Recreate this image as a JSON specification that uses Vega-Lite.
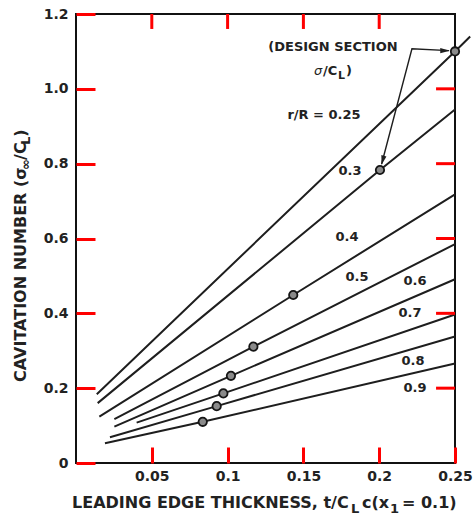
{
  "$schema": "https://vega.github.io/schema/vega-lite/v6.json",
  "width": 379,
  "height": 449,
  "autosize": {"type": "none"},
  "padding": {"left": 76, "top": 14, "right": 20, "bottom": 60},
  "background": "white",
  "config": {
    "view": {"stroke": "#111", "strokeWidth": 2},
    "font": "DejaVu Sans",
    "axis": {
      "domain": false,
      "grid": false,
      "title": null,
      "labelFont": "DejaVu Sans",
      "labelFontWeight": "bold",
      "labelFontSize": 14,
      "labelColor": "#222",
      "labelFlush": false,
      "labelOverlap": false
    }
  },
  "datasets": {
    "lines": [
      {"r": "0.25", "x": 0.0137, "y": 0.184, "ord": 1},
      {"r": "0.25", "x": 0.25, "y": 1.10, "ord": 2},
      {"r": "0.25", "x": 0.26, "y": 1.14, "ord": 3},
      {"r": "0.3", "x": 0.0143, "y": 0.160, "ord": 1},
      {"r": "0.3", "x": 0.2005, "y": 0.783, "ord": 2},
      {"r": "0.3", "x": 0.25, "y": 0.945, "ord": 3},
      {"r": "0.4", "x": 0.0154, "y": 0.124, "ord": 1},
      {"r": "0.4", "x": 0.1433, "y": 0.449, "ord": 2},
      {"r": "0.4", "x": 0.25, "y": 0.718, "ord": 3},
      {"r": "0.5", "x": 0.0253, "y": 0.117, "ord": 1},
      {"r": "0.5", "x": 0.117, "y": 0.311, "ord": 2},
      {"r": "0.5", "x": 0.25, "y": 0.585, "ord": 3},
      {"r": "0.6", "x": 0.0253, "y": 0.097, "ord": 1},
      {"r": "0.6", "x": 0.1022, "y": 0.233, "ord": 2},
      {"r": "0.6", "x": 0.25, "y": 0.491, "ord": 3},
      {"r": "0.7", "x": 0.040, "y": 0.108, "ord": 1},
      {"r": "0.7", "x": 0.0972, "y": 0.186, "ord": 2},
      {"r": "0.7", "x": 0.25, "y": 0.397, "ord": 3},
      {"r": "0.8", "x": 0.0224, "y": 0.069, "ord": 1},
      {"r": "0.8", "x": 0.0928, "y": 0.152, "ord": 2},
      {"r": "0.8", "x": 0.25, "y": 0.338, "ord": 3},
      {"r": "0.9", "x": 0.0191, "y": 0.053, "ord": 1},
      {"r": "0.9", "x": 0.0836, "y": 0.110, "ord": 2},
      {"r": "0.9", "x": 0.25, "y": 0.266, "ord": 3}
    ],
    "design": [
      {"r": "0.25", "x": 0.25, "y": 1.10},
      {"r": "0.3", "x": 0.2005, "y": 0.783},
      {"r": "0.4", "x": 0.1433, "y": 0.449},
      {"r": "0.5", "x": 0.117, "y": 0.311},
      {"r": "0.6", "x": 0.1022, "y": 0.233},
      {"r": "0.7", "x": 0.0972, "y": 0.186},
      {"r": "0.8", "x": 0.0928, "y": 0.152},
      {"r": "0.9", "x": 0.0836, "y": 0.110}
    ],
    "arrow": [
      {"x": 0.2016, "y": 0.799, "ord": 1},
      {"x": 0.2216, "y": 1.107, "ord": 2},
      {"x": 0.2460, "y": 1.102, "ord": 3}
    ],
    "labels": [
      {"text": "0.3", "x": 0.1807, "y": 0.781},
      {"text": "0.4", "x": 0.1788, "y": 0.604},
      {"text": "0.5", "x": 0.1854, "y": 0.497},
      {"text": "0.6", "x": 0.2236, "y": 0.487},
      {"text": "0.7", "x": 0.2203, "y": 0.401},
      {"text": "0.8", "x": 0.2223, "y": 0.273},
      {"text": "0.9", "x": 0.2236, "y": 0.2005},
      {"text": "r/R = 0.25", "x": 0.1636, "y": 0.930},
      {"text": "(DESIGN SECTION", "x": 0.1695, "y": 1.112}
    ],
    "annot": [
      {"text": "/C", "x": 0.1629, "y": 1.047},
      {"text": ")", "x": 0.1781, "y": 1.047}
    ],
    "annotSigma": [
      {"text": "σ", "x": 0.1570, "y": 1.047}
    ],
    "annotSub": [
      {"text": "L", "x": 0.1728, "y": 1.047}
    ],
    "xtitle": [
      {"text": "LEADING EDGE THICKNESS,  t/C", "x": -0.0026, "y": -0.107},
      {"text": "c(x", "x": 0.1887, "y": -0.107},
      {"text": "= 0.1)", "x": 0.2150, "y": -0.107}
    ],
    "xtitleSub": [
      {"text": "L", "x": 0.1814, "y": -0.107},
      {"text": "1", "x": 0.2071, "y": -0.107}
    ],
    "ytitle": [
      {"text": "CAVITATION NUMBER  (σ", "x": -0.0363, "y": 0.2166},
      {"text": "/C", "x": -0.0363, "y": 0.810},
      {"text": " )", "x": -0.0363, "y": 0.8717}
    ],
    "ytitleSub": [
      {"text": "∞", "x": -0.0363, "y": 0.7834},
      {"text": "L", "x": -0.0363, "y": 0.850}
    ]
  },
  "layer": [
    {
      "data": {"name": "lines"},
      "mark": {"type": "line", "color": "#1e1e1e", "strokeWidth": 2, "clip": false},
      "encoding": {
        "x": {"field": "x", "type": "quantitative",
              "scale": {"domain": [0, 0.25], "nice": false, "zero": false},
              "axis": {"orient": "bottom", "values": [0.05, 0.1, 0.15, 0.2, 0.25], "tickSize": -16, "tickColor": "red", "tickWidth": 3, "labelPadding": 22,
                       "labelExpr": "format(datum.value, '.2~f')"}},
        "y": {"field": "y", "type": "quantitative",
              "scale": {"domain": [0, 1.2], "nice": false, "zero": false},
              "axis": {"orient": "left", "values": [0, 0.2, 0.4, 0.6, 0.8, 1.0, 1.2], "tickSize": -19, "tickColor": "red", "tickWidth": 3, "labelPadding": 27,
                       "labelExpr": "datum.value == 0 ? '0' : format(datum.value, '.1f')"}},
        "detail": {"field": "r"},
        "order": {"field": "ord"}
      }
    },
    {
      "data": {"name": "arrow"},
      "mark": {"type": "line", "color": "#1e1e1e", "strokeWidth": 1.4, "clip": false},
      "encoding": {
        "x": {"field": "x", "type": "quantitative"},
        "y": {"field": "y", "type": "quantitative"},
        "order": {"field": "ord"}
      }
    },
    {
      "data": {"values": [{"x": 0.2434, "y": 1.102}]},
      "mark": {"type": "point", "shape": "M0,-1L0.55,1L-0.55,1Z", "filled": true, "color": "#1e1e1e", "size": 90, "angle": 90, "opacity": 1, "clip": false},
      "encoding": {
        "x": {"field": "x", "type": "quantitative"},
        "y": {"field": "y", "type": "quantitative"}
      }
    },
    {
      "data": {"values": [{"x": 0.2023, "y": 0.809}]},
      "mark": {"type": "point", "shape": "M0,-1L0.55,1L-0.55,1Z", "filled": true, "color": "#1e1e1e", "size": 90, "angle": 195, "opacity": 1, "clip": false},
      "encoding": {
        "x": {"field": "x", "type": "quantitative"},
        "y": {"field": "y", "type": "quantitative"}
      }
    },
    {
      "data": {"name": "design"},
      "mark": {"type": "point", "filled": true, "fill": "#8a8a8a", "stroke": "#151515", "strokeWidth": 1.8, "size": 70, "opacity": 1, "clip": false},
      "encoding": {
        "x": {"field": "x", "type": "quantitative"},
        "y": {"field": "y", "type": "quantitative"}
      }
    },
    {
      "data": {"name": "labels"},
      "mark": {"type": "text", "font": "DejaVu Sans", "fontWeight": "bold", "fontSize": 13, "color": "#222", "align": "center", "baseline": "middle", "clip": false},
      "encoding": {
        "x": {"field": "x", "type": "quantitative"},
        "y": {"field": "y", "type": "quantitative"},
        "text": {"field": "text"}
      }
    },
    {
      "data": {"name": "annot"},
      "mark": {"type": "text", "font": "DejaVu Sans", "fontWeight": "bold", "fontSize": 13, "color": "#222", "align": "left", "baseline": "middle", "clip": false},
      "encoding": {
        "x": {"field": "x", "type": "quantitative"},
        "y": {"field": "y", "type": "quantitative"},
        "text": {"field": "text"}
      }
    },
    {
      "data": {"name": "annotSigma"},
      "mark": {"type": "text", "font": "DejaVu Sans", "fontStyle": "italic", "fontSize": 13, "color": "#222", "align": "left", "baseline": "middle", "clip": false},
      "encoding": {
        "x": {"field": "x", "type": "quantitative"},
        "y": {"field": "y", "type": "quantitative"},
        "text": {"field": "text"}
      }
    },
    {
      "data": {"name": "annotSub"},
      "mark": {"type": "text", "font": "DejaVu Sans", "fontWeight": "bold", "fontSize": 11, "color": "#222", "align": "left", "baseline": "middle", "dy": 5, "clip": false},
      "encoding": {
        "x": {"field": "x", "type": "quantitative"},
        "y": {"field": "y", "type": "quantitative"},
        "text": {"field": "text"}
      }
    },
    {
      "data": {"name": "xtitle"},
      "mark": {"type": "text", "font": "DejaVu Sans", "fontWeight": "bold", "fontSize": 16, "color": "#222", "align": "left", "baseline": "middle", "clip": false},
      "encoding": {
        "x": {"field": "x", "type": "quantitative"},
        "y": {"field": "y", "type": "quantitative"},
        "text": {"field": "text"}
      }
    },
    {
      "data": {"name": "xtitleSub"},
      "mark": {"type": "text", "font": "DejaVu Sans", "fontWeight": "bold", "fontSize": 13, "color": "#222", "align": "left", "baseline": "middle", "dy": 6, "clip": false},
      "encoding": {
        "x": {"field": "x", "type": "quantitative"},
        "y": {"field": "y", "type": "quantitative"},
        "text": {"field": "text"}
      }
    },
    {
      "data": {"name": "ytitle"},
      "mark": {"type": "text", "font": "DejaVu Sans", "fontWeight": "bold", "fontSize": 16, "color": "#222", "align": "left", "baseline": "middle", "angle": 270, "clip": false},
      "encoding": {
        "x": {"field": "x", "type": "quantitative"},
        "y": {"field": "y", "type": "quantitative"},
        "text": {"field": "text"}
      }
    },
    {
      "data": {"name": "ytitleSub"},
      "mark": {"type": "text", "font": "DejaVu Sans", "fontWeight": "bold", "fontSize": 13, "color": "#222", "align": "left", "baseline": "middle", "angle": 270, "dy": 5, "clip": false},
      "encoding": {
        "x": {"field": "x", "type": "quantitative"},
        "y": {"field": "y", "type": "quantitative"},
        "text": {"field": "text"}
      }
    },
    {
      "data": {"values": [{"x": 0.05}, {"x": 0.1}, {"x": 0.15}, {"x": 0.2}]},
      "mark": {"type": "rule", "color": "red", "strokeWidth": 3},
      "encoding": {
        "x": {"field": "x", "type": "quantitative"},
        "y": {"datum": 1.2},
        "y2": {"datum": 1.16}
      }
    },
    {
      "data": {"values": [{"y": 0.2}, {"y": 0.4}, {"y": 0.6}, {"y": 0.8}, {"y": 1.0}]},
      "mark": {"type": "rule", "color": "red", "strokeWidth": 3},
      "encoding": {
        "y": {"field": "y", "type": "quantitative"},
        "x": {"datum": 0.25},
        "x2": {"datum": 0.2375}
      }
    }
  ]
}
